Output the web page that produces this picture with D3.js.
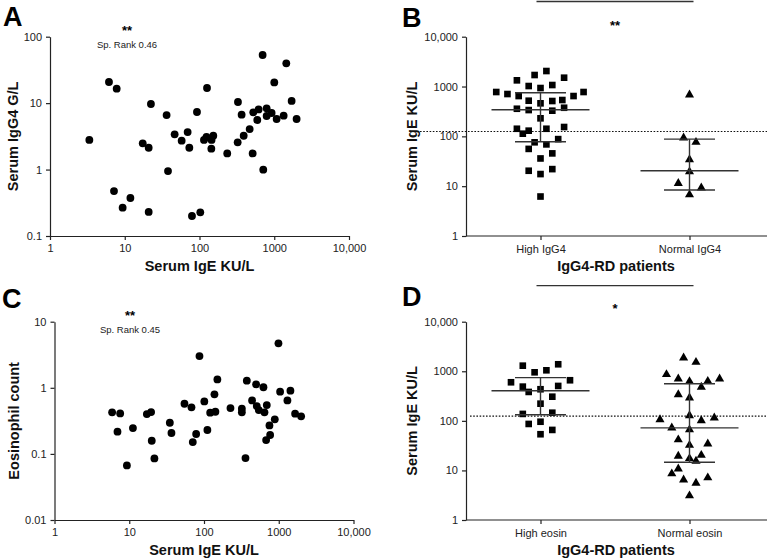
<!DOCTYPE html>
<html><head><meta charset="utf-8">
<script src="https://cdn.jsdelivr.net/npm/d3@7"></script>
<style>
body{margin:0;background:#fff}
svg{display:block;font-family:"Liberation Sans",Arial,Helvetica,sans-serif}
</style>
</head><body>
<svg id="chart" width="767" height="560"></svg>
<script>
// ---------------- DATA ----------------
// Panel A: Serum IgE (KU/L) vs Serum IgG4 (G/L)
const aIgE  = [3.36,6.15,7.8,7.18,9.37,11.9,17.4,20.9,20.9,22.4,36.3,37.9,46.5,57.7,69.4,73.1,79.3,92.5,102.5,114.8,126,124,145,153,144,235,327,324,366,390,469,514,524,593,618,699,713,791,791,922,1001,1076,1335,1449,1708,1991];
const aIgG4 = [2.79,20.8,16.5,0.475,0.267,0.373,2.48,2.13,0.23,9.7,6.62,0.95,3.39,2.72,3.67,2.13,0.2,7.35,0.227,2.79,16.9,3.09,2.79,3.23,2.06,1.75,10.4,2.57,6.7,3.23,4.07,1.75,7.26,5.57,8.05,53,0.995,8.34,6.4,7.1,20.5,5.77,6.47,39.7,10.8,5.77];
const aStat = ["**","Sp. Rank 0.46"];

// Panel C: Serum IgE (KU/L) vs Eosinophil count
const cIgE = [5.9,7.56,6.96,11.2,9.3,17.2,19.6,20,21.7,34.9,36.7,54.8,68,70.8,78.5,87,101,111,121,138,142,151,226,321,321,359,374,440,498,508,541,624,644,678,692,751,767,885,991,1043,1306,1433,1655,1992];
const cEos = [0.425,0.41,0.217,0.246,0.067,0.40,0.43,0.158,0.0855,0.296,0.207,0.574,0.506,0.151,0.2,3.02,0.623,0.23,0.42,0.796,0.434,1.34,0.494,0.483,0.425,0.0866,1.28,0.645,1.13,0.53,0.46,1.02,0.425,0.162,0.548,0.27,0.193,0.333,4.7,0.873,0.645,0.904,0.406,0.37];
const cStat = ["**","Sp. Rank 0.45"];

// Panel B: Serum IgE by IgG4 group
const bCategories = ["High IgG4","Normal IgG4"];
const bHighIgE    = [2047,1702,1503,1331,1023,1072,933,776,707,644,644,776,519,460,512,536,358,337,327,375,230,142,113,130,142,154,88,76,69,56,45.5,36,20.4,17.5,22,6.2];
const bHighSlot   = [1,-1,4,-4,-2,2,0,-7.5,-5.6,-3.7,5.6,7.3,-2,0,2,3.7,-4,-2,2,4,0,-4,-3,-2,1,4,3,-1,1,-2,2,0,-2,0,2,0];
const bNormalIgE  = [697,95.5,78,35,20,11.7,9.5,6.9];
const bNormalSlot = [0,-1,1.1,0,0,-1.9,2,0];
const bMedian = [342,20.4];
const bQ1     = [78,8.4];
const bQ3     = [752,88];
const bSig    = "**";

// Panel D: Serum IgE by eosinophil group
const dCategories = ["High eosin","Normal eosin"];
const dHighIgE    = [1297,1384,954,1047,600,659,490,383,434,506,307,222,138,146,86.6,96,65.6,53.7];
const dHighSlot   = [-3,3,-1,1,-5,5,-3,-2,0,3,2,0,-3,2,-2,0,2,0];
const dNormalIgE  = [1914,1563,883,722,637,646,722,490,348,298,109,131,104,118,74,68,42.6,35.3,33,19.9,20.8,17.9,15.8,11,8.8,6.6,5.7,7.3,3.16];
const dNormalSlot = [-1,1.1,-3.9,-1.9,0,3.1,5.1,2,-1.9,0,-5,0,2,4.2,-3,0,-1.9,3.1,0,-1.9,2,0,1.1,-1.9,-3,-1,1.1,3.1,0];
const dMedian = [406,72];
const dQ1     = [133,14.6];
const dQ3     = [743,562];
const dSig    = "*";

const igeThreshold = 125;

const xLogTicks  = [1,10,100,1000,10000];
const xLogLabels = ["1","10","100","1000","10,000"];
const aYTicks  = [0.1,1,10,100];
const aYLabels = ["0.1","1","10","100"];
const cYTicks  = [0.01,0.1,1,10];
const cYLabels = ["0.01","0.1","1","10"];
const bdYTicks  = [1,10,100,1000,10000];
const bdYLabels = ["1","10","100","1000","10,000"];

// ---------------- DRAWING ----------------
const svg = d3.select("#chart");
const AX = "#222";

function styleAxis(g){
  g.selectAll(".domain").attr("stroke",AX).attr("stroke-width",1.2);
  g.selectAll(".tick line").attr("stroke",AX).attr("stroke-width",1.2);
  g.selectAll(".tick text").attr("fill","#222").style("font-size","11px")
   .style("font-family",'"Liberation Sans",Arial,sans-serif');
}

function panelLetter(x,y,t){
  svg.append("text").attr("x",x).attr("y",y).text(t)
    .style("font-size","27px").style("font-weight","bold").attr("fill","#000");
}
function yTitle(x,cy,t){
  svg.append("text").attr("transform",`translate(${x},${cy}) rotate(-90)`)
    .attr("text-anchor","middle").text(t)
    .style("font-size","14.5px").style("font-weight","bold").attr("fill","#111");
}
function xTitle(cx,y,t){
  svg.append("text").attr("x",cx).attr("y",y).attr("text-anchor","middle").text(t)
    .style("font-size","14.5px").style("font-weight","bold").attr("fill","#111");
}

function scatterPanel(o){
  const x = d3.scaleLog().domain([1,10000]).range(o.xRange);
  const y = d3.scaleLog().domain(o.yDomain).range(o.yRange);
  const gx = svg.append("g").attr("transform",`translate(0,${o.yRange[0]})`)
    .call(d3.axisBottom(x).tickValues(xLogTicks).tickFormat((d,i)=>xLogLabels[i])
      .tickSize(4).tickSizeOuter(0).tickPadding(4));
  styleAxis(gx);
  const gy = svg.append("g").attr("transform",`translate(${o.xRange[0]},0)`)
    .call(d3.axisLeft(y).tickValues(o.yTicks).tickFormat((d,i)=>o.yLabels[i])
      .tickSize(4).tickSizeOuter(0).tickPadding(4));
  styleAxis(gy);
  svg.append("g").selectAll("circle").data(o.xs).join("circle")
    .attr("cx",d=>x(d)).attr("cy",(d,i)=>y(o.ys[i])).attr("r",3.9).attr("fill","#000");
  svg.append("text").attr("x",o.statX).attr("y",o.statY).attr("text-anchor","middle")
    .text(o.stat[0]).style("font-size","13px").style("font-weight","bold");
  svg.append("text").attr("x",o.statX).attr("y",o.statY+13).attr("text-anchor","middle")
    .text(o.stat[1]).style("font-size","9.5px").attr("fill","#222");
  xTitle((o.xRange[0]+o.xRange[1])/2, o.yRange[0]+35, "Serum IgE KU/L");
  yTitle(o.yTitleX,(o.yRange[0]+o.yRange[1])/2,o.yTitle);
}

function columnPanel(o){
  const x = d3.scalePoint().domain(o.cats).range([466,764]).padding(0.5);
  const y = d3.scaleLog().domain([1,10000]).range(o.yRange);
  const slotW = 5.9;
  const gx = svg.append("g").attr("transform",`translate(0,${o.yRange[0]})`)
    .call(d3.axisBottom(x).tickSize(4).tickSizeOuter(0).tickPadding(5));
  gx.select(".domain").attr("d","M466,0H767");
  styleAxis(gx);
  const gy = svg.append("g").attr("transform",`translate(466,0)`)
    .call(d3.axisLeft(y).tickValues(bdYTicks).tickFormat((d,i)=>bdYLabels[i])
      .tickSize(4).tickSizeOuter(0).tickPadding(4));
  styleAxis(gy);
  // threshold dotted line
  svg.append("line").attr("x1",o.dotX0).attr("x2",767)
    .attr("y1",y(igeThreshold)).attr("y2",y(igeThreshold))
    .attr("stroke","#111").attr("stroke-width",1.2).attr("stroke-dasharray","1.6,1.6");
  // points
  const sq = d3.symbol(d3.symbolSquare,44)();
  const tri = d3.symbol(d3.symbolTriangle,36)();
  svg.append("g").selectAll("path").data(o.high).join("path")
    .attr("d",sq).attr("fill","#000")
    .attr("transform",(d,i)=>`translate(${x(o.cats[0])+o.highSlot[i]*slotW},${y(d)})`);
  svg.append("g").selectAll("path").data(o.normal).join("path")
    .attr("d",tri).attr("fill","#000")
    .attr("transform",(d,i)=>`translate(${x(o.cats[1])+o.normalSlot[i]*slotW},${y(d)+0.5})`);
  // median & IQR
  const st = svg.append("g").attr("stroke","#333").attr("stroke-width",1.4);
  o.cats.forEach((c,i)=>{
    const cx = x(c);
    st.append("line").attr("x1",cx-49).attr("x2",cx+49).attr("y1",y(o.med[i])).attr("y2",y(o.med[i]));
    st.append("line").attr("x1",cx-25.5).attr("x2",cx+25.5).attr("y1",y(o.q1[i])).attr("y2",y(o.q1[i]));
    st.append("line").attr("x1",cx-25.5).attr("x2",cx+25.5).attr("y1",y(o.q3[i])).attr("y2",y(o.q3[i]));
    st.append("line").attr("x1",cx).attr("x2",cx).attr("y1",y(o.q1[i])).attr("y2",y(o.q3[i]));
  });
  // significance bar
  svg.append("line").attr("x1",x(o.cats[0])-4).attr("x2",x(o.cats[1])+4)
    .attr("y1",o.sigY).attr("y2",o.sigY).attr("stroke","#333").attr("stroke-width",1.3);
  svg.append("text").attr("x",(x(o.cats[0])+x(o.cats[1]))/2).attr("y",o.sigY+o.sigDy)
    .attr("text-anchor","middle").text(o.sig).style("font-size","13px").style("font-weight","bold");
  xTitle(616,o.yRange[0]+35,"IgG4-RD patients");
  yTitle(417,(o.yRange[0]+o.yRange[1])/2,"Serum IgE KU/L");
}

scatterPanel({xs:aIgE, ys:aIgG4, xRange:[50,349], yDomain:[0.1,100], yRange:[236,36.7],
  yTicks:aYTicks, yLabels:aYLabels, yTitle:"Serum IgG4 G/L", yTitleX:18,
  stat:aStat, statX:127, statY:35});
scatterPanel({xs:cIgE, ys:cEos, xRange:[54.5,353.5], yDomain:[0.01,10], yRange:[520,321.7],
  yTicks:cYTicks, yLabels:cYLabels, yTitle:"Eosinophil count", yTitleX:19,
  stat:cStat, statX:130, statY:320});
columnPanel({cats:bCategories, high:bHighIgE, highSlot:bHighSlot, normal:bNormalIgE, normalSlot:bNormalSlot,
  med:bMedian, q1:bQ1, q3:bQ3, yRange:[236,36.7], dotX0:420, sigY:1.5, sigDy:28, sig:bSig});
columnPanel({cats:dCategories, high:dHighIgE, highSlot:dHighSlot, normal:dNormalIgE, normalSlot:dNormalSlot,
  med:dMedian, q1:dQ1, q3:dQ3, yRange:[520,321.7], dotX0:470, sigY:285.7, sigDy:27, sig:dSig});

panelLetter(3,26,"A");
panelLetter(402,27,"B");
panelLetter(2,308,"C");
panelLetter(402,306,"D");
</script>
</body></html>
